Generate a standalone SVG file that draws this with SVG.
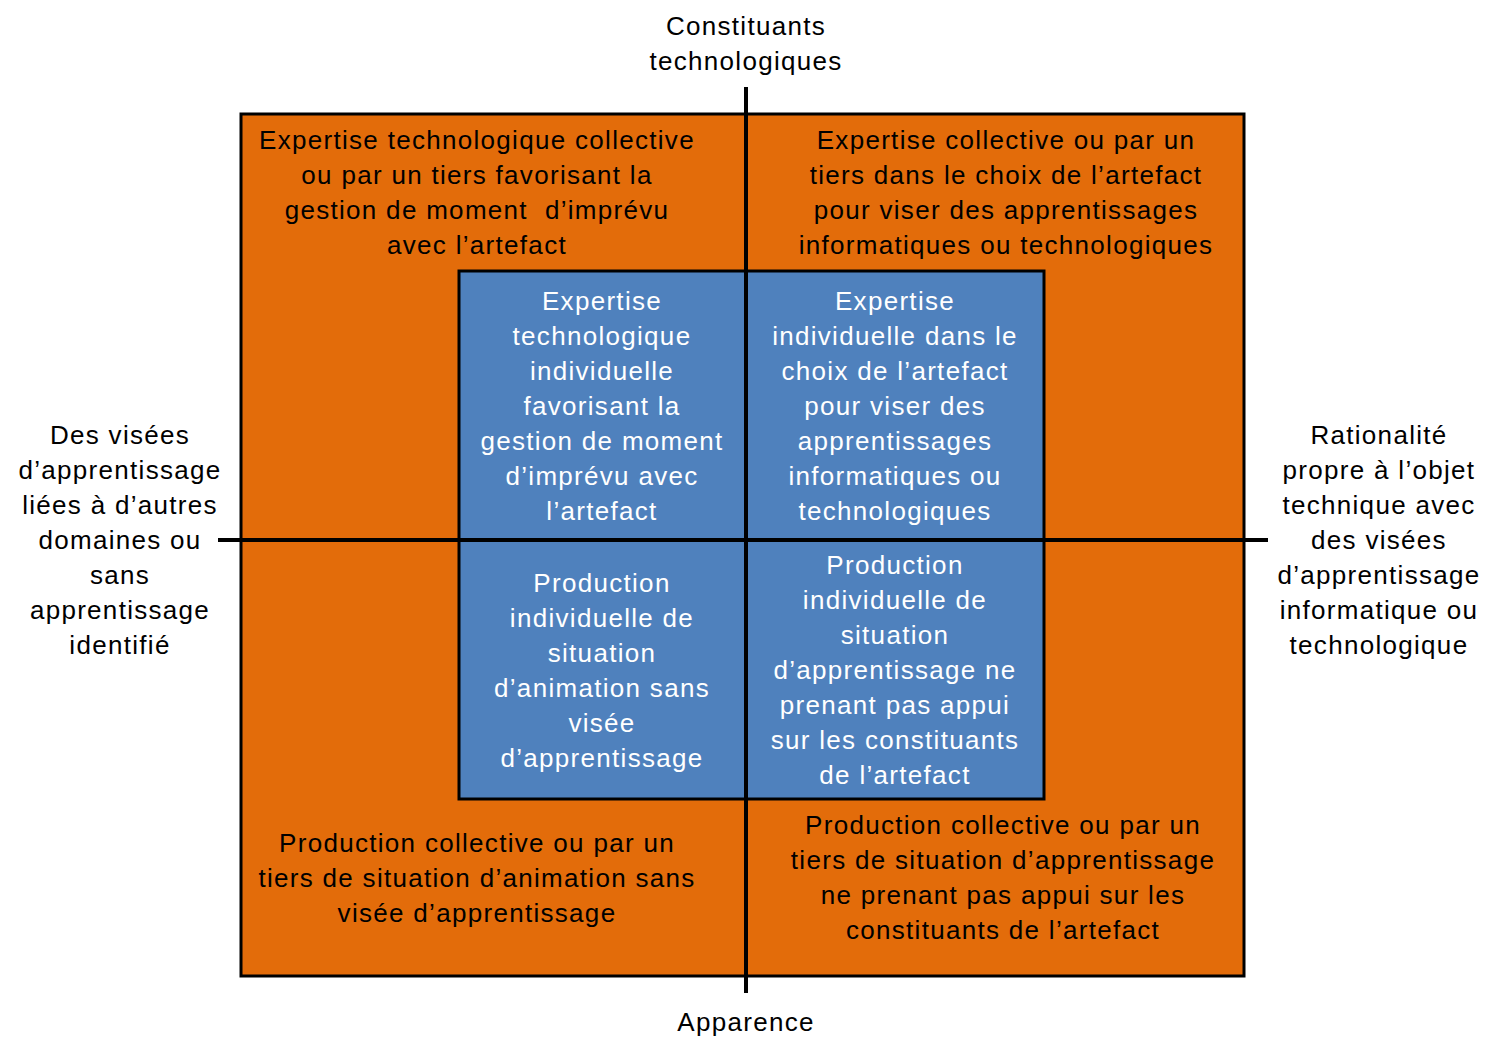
<svg xmlns="http://www.w3.org/2000/svg" width="1508" height="1057" viewBox="0 0 1508 1057">
<style>
text{font-family:"Liberation Sans",Arial,sans-serif;font-size:26px;text-anchor:middle;letter-spacing:1.3px}
.w{fill:#ffffff}
.k{fill:#000000}
.orange{fill:#E36C0A;stroke:#000;stroke-width:3}
.blue{fill:#4F81BD;stroke:#000;stroke-width:3}
.axis{stroke:#000;stroke-width:4;fill:none}
</style>
<rect width="1508" height="1057" fill="#fff"/>
<g id="outer-frame"><rect class="orange" x="241" y="114" width="1003" height="862"/></g>
<g id="inner-frame"><rect class="blue" x="459" y="271" width="585" height="528"/></g>
<g id="connectors">
<line class="axis" x1="746" y1="87" x2="746" y2="993"/>
<line class="axis" x1="218" y1="540" x2="1268" y2="540"/>
</g>
<g id="label-top"><text class="k" x="746" y="35">Constituants</text><text class="k" x="746" y="70">technologiques</text></g>
<g id="label-bottom"><text class="k" x="746" y="1031">Apparence</text></g>
<g id="label-left"><text class="k" x="120" y="444">Des visées</text><text class="k" x="120" y="479">d’apprentissage</text><text class="k" x="120" y="514">liées à d’autres</text><text class="k" x="120" y="549">domaines ou</text><text class="k" x="120" y="584">sans</text><text class="k" x="120" y="619">apprentissage</text><text class="k" x="120" y="654">identifié</text></g>
<g id="label-right"><text class="k" x="1379" y="444">Rationalité</text><text class="k" x="1379" y="479">propre à l’objet</text><text class="k" x="1379" y="514">technique avec</text><text class="k" x="1379" y="549">des visées</text><text class="k" x="1379" y="584">d’apprentissage</text><text class="k" x="1379" y="619">informatique ou</text><text class="k" x="1379" y="654">technologique</text></g>
<g id="outer-tl"><text class="k" x="477" y="149">Expertise technologique collective</text><text class="k" x="477" y="184">ou par un tiers favorisant la</text><text class="k" x="477" y="219" xml:space="preserve">gestion de moment  d’imprévu</text><text class="k" x="477" y="254">avec l’artefact</text></g>
<g id="outer-tr"><text class="k" x="1006" y="149">Expertise collective ou par un</text><text class="k" x="1006" y="184">tiers dans le choix de l’artefact</text><text class="k" x="1006" y="219">pour viser des apprentissages</text><text class="k" x="1006" y="254">informatiques ou technologiques</text></g>
<g id="outer-bl"><text class="k" x="477" y="852">Production collective ou par un</text><text class="k" x="477" y="887">tiers de situation d’animation sans</text><text class="k" x="477" y="922">visée d’apprentissage</text></g>
<g id="outer-br"><text class="k" x="1003" y="834">Production collective ou par un</text><text class="k" x="1003" y="869">tiers de situation d’apprentissage</text><text class="k" x="1003" y="904">ne prenant pas appui sur les</text><text class="k" x="1003" y="939">constituants de l’artefact</text></g>
<g id="inner-tl"><text class="w" x="602" y="310">Expertise</text><text class="w" x="602" y="345">technologique</text><text class="w" x="602" y="380">individuelle</text><text class="w" x="602" y="415">favorisant la</text><text class="w" x="602" y="450">gestion de moment</text><text class="w" x="602" y="485">d’imprévu avec</text><text class="w" x="602" y="520">l’artefact</text></g>
<g id="inner-tr"><text class="w" x="895" y="310">Expertise</text><text class="w" x="895" y="345">individuelle dans le</text><text class="w" x="895" y="380">choix de l’artefact</text><text class="w" x="895" y="415">pour viser des</text><text class="w" x="895" y="450">apprentissages</text><text class="w" x="895" y="485">informatiques ou</text><text class="w" x="895" y="520">technologiques</text></g>
<g id="inner-bl"><text class="w" x="602" y="592">Production</text><text class="w" x="602" y="627">individuelle de</text><text class="w" x="602" y="662">situation</text><text class="w" x="602" y="697">d’animation sans</text><text class="w" x="602" y="732">visée</text><text class="w" x="602" y="767">d’apprentissage</text></g>
<g id="inner-br"><text class="w" x="895" y="574">Production</text><text class="w" x="895" y="609">individuelle de</text><text class="w" x="895" y="644">situation</text><text class="w" x="895" y="679">d’apprentissage ne</text><text class="w" x="895" y="714">prenant pas appui</text><text class="w" x="895" y="749">sur les constituants</text><text class="w" x="895" y="784">de l’artefact</text></g>
</svg>
